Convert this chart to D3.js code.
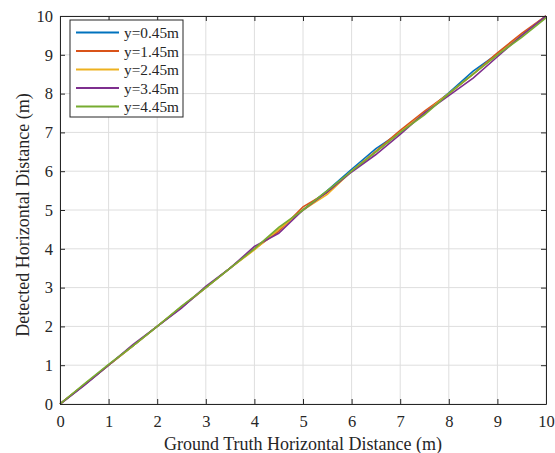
<!DOCTYPE html>
<html>
<head>
<meta charset="utf-8">
<script src="https://cdn.jsdelivr.net/npm/d3@7"></script>
<style>
  body { margin: 0; background: #fff; }
</style>
</head>
<body>
<svg id="chart" width="555" height="453"></svg>
<script>
// ground truth positions (m)
const truth = [0, 0.5, 1, 1.5, 2, 2.5, 3, 3.5, 4, 4.5, 5, 5.5, 6, 6.5, 7, 7.5, 8, 8.5, 9, 9.5, 10];

// detected positions for each y offset
const y045 = [0, 0.49, 1.0, 1.5, 2.0, 2.49, 3.0, 3.5, 4.0, 4.5, 5.0, 5.5, 6.05, 6.58, 7.0, 7.5, 8.02, 8.58, 9.02, 9.5, 10];
const y145 = [0, 0.5, 1.0, 1.5, 2.0, 2.5, 3.0, 3.5, 4.0, 4.45, 5.08, 5.45, 6.0, 6.52, 7.05, 7.55, 8.0, 8.5, 9.05, 9.55, 10];
const y245 = [0, 0.5, 1.0, 1.5, 2.0, 2.5, 3.0, 3.5, 3.97, 4.5, 5.0, 5.4, 6.0, 6.5, 7.0, 7.5, 8.0, 8.5, 9.0, 9.5, 10];
const y345 = [0, 0.48, 1.0, 1.53, 2.0, 2.47, 3.03, 3.5, 4.06, 4.4, 5.0, 5.47, 5.98, 6.43, 6.95, 7.5, 7.95, 8.4, 8.95, 9.5, 10];
const y445 = [0, 0.52, 1.02, 1.5, 2.0, 2.52, 3.0, 3.5, 4.0, 4.55, 5.0, 5.5, 6.0, 6.5, 7.0, 7.45, 8.0, 8.5, 9.0, 9.45, 9.95];

const seriesNames = ["y=0.45m", "y=1.45m", "y=2.45m", "y=3.45m", "y=4.45m"];
const seriesValues = [y045, y145, y245, y345, y445];
const colors = ["#0072BD", "#D95319", "#EDB120", "#7E2F8E", "#77AC30"];
const ticks = [0, 1, 2, 3, 4, 5, 6, 7, 8, 9, 10];

const FONT = "'Liberation Serif', 'Times New Roman', Times, 'DejaVu Serif', serif";

const margin = { top: 16, right: 9, bottom: 49, left: 60 };
const svg = d3.select("#chart");
const width = 555 - margin.left - margin.right;
const height = 453 - margin.top - margin.bottom;

const x = d3.scaleLinear().domain([0, 10]).range([0, width]);
const y = d3.scaleLinear().domain([0, 10]).range([height, 0]);

const g = svg.append("g").attr("transform", `translate(${margin.left},${margin.top})`);

// grid
g.append("g")
  .selectAll("line")
  .data(ticks)
  .join("line")
  .attr("x1", (d) => x(d)).attr("x2", (d) => x(d))
  .attr("y1", 0).attr("y2", height)
  .attr("stroke", "#dedede").attr("stroke-width", 1);
g.append("g")
  .selectAll("line")
  .data(ticks)
  .join("line")
  .attr("y1", (d) => y(d)).attr("y2", (d) => y(d))
  .attr("x1", 0).attr("x2", width)
  .attr("stroke", "#dedede").attr("stroke-width", 1);

// lines
const line = d3.line()
  .x((d, i) => x(truth[i]))
  .y((d) => y(d));

seriesValues.forEach((vals, k) => {
  g.append("path")
    .datum(vals)
    .attr("fill", "none")
    .attr("stroke", colors[k])
    .attr("stroke-width", 1.6)
    .attr("d", line);
});

// axes (ticks pointing inward, box on)
const axisStyle = (sel) => {
  sel.attr("font-family", FONT).attr("font-size", 16.5);
  sel.selectAll("path").attr("stroke", "#262626").attr("stroke-width", 1);
  sel.selectAll("line").attr("stroke", "#262626");
  sel.selectAll("text").attr("fill", "#262626");
};

g.append("g")
  .attr("transform", `translate(0,${height})`)
  .call(d3.axisBottom(x).tickValues(ticks).tickSizeInner(-5).tickSizeOuter(0).tickPadding(11))
  .call(axisStyle);
g.append("g")
  .call(d3.axisTop(x).tickValues(ticks).tickSizeInner(-5).tickSizeOuter(0).tickFormat(""))
  .call(axisStyle);
g.append("g")
  .call(d3.axisLeft(y).tickValues(ticks).tickSizeInner(-5).tickSizeOuter(0).tickPadding(7))
  .call(axisStyle);
g.append("g")
  .attr("transform", `translate(${width},0)`)
  .call(d3.axisRight(y).tickValues(ticks).tickSizeInner(-5).tickSizeOuter(0).tickFormat(""))
  .call(axisStyle);

// axis labels
svg.append("text")
  .attr("x", 303)
  .attr("y", 450)
  .attr("text-anchor", "middle")
  .attr("font-family", FONT)
  .attr("font-size", 18)
  .attr("fill", "#262626")
  .text("Ground Truth Horizontal Distance (m)");

svg.append("text")
  .attr("transform", `translate(29,215) rotate(-90)`)
  .attr("text-anchor", "middle")
  .attr("font-family", FONT)
  .attr("font-size", 18)
  .attr("fill", "#262626")
  .text("Detected Horizontal Distance (m)");

// legend
const legend = svg.append("g").attr("transform", "translate(70,20)");
legend.append("rect")
  .attr("width", 113).attr("height", 97)
  .attr("fill", "#fff").attr("stroke", "#262626").attr("stroke-width", 1);
seriesNames.forEach((name, k) => {
  const row = legend.append("g").attr("transform", `translate(0,${12.5 + k * 18.5})`);
  row.append("line")
    .attr("x1", 6).attr("x2", 49)
    .attr("stroke", colors[k]).attr("stroke-width", 2);
  row.append("text")
    .attr("x", 54).attr("y", 5.5)
    .attr("font-family", FONT)
    .attr("font-size", 15.3)
    .attr("fill", "#262626")
    .text(name);
});
</script>
</body>
</html>
